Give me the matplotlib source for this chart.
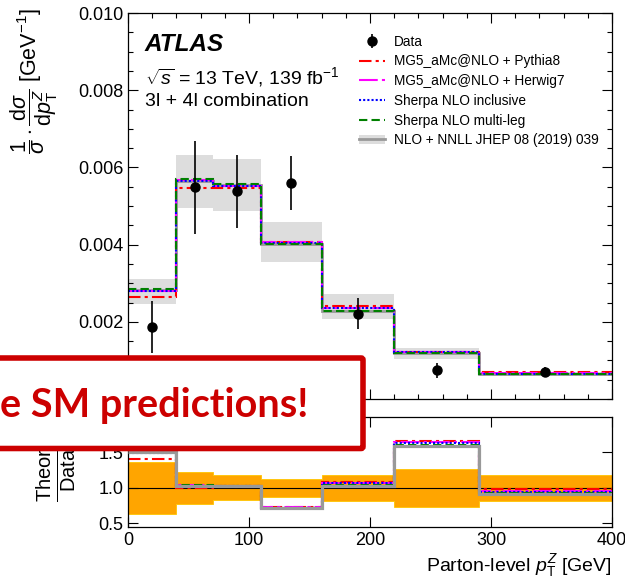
import numpy as np
import matplotlib
matplotlib.use("Agg")
import matplotlib.pyplot as plt
from matplotlib.patches import Patch, FancyBboxPatch
from matplotlib.lines import Line2D
from matplotlib.ticker import MultipleLocator, FormatStrFormatter

plt.rcParams['font.family'] = ['Liberation Sans', 'DejaVu Sans']
plt.rcParams['mathtext.fontset'] = 'custom'
plt.rcParams['mathtext.rm'] = 'Liberation Sans'
plt.rcParams['mathtext.it'] = 'Liberation Sans:italic'
plt.rcParams['mathtext.bf'] = 'Liberation Sans:bold'

# ---------------- data ----------------
edges = np.array([0, 40, 70, 110, 160, 220, 290, 400])
data = np.array([0.00187, 0.00548, 0.00538, 0.00559, 0.00221, 0.00074, 0.00070])
data_err = np.array([0.00068, 0.00120, 0.00095, 0.00070, 0.00040, 0.00020, 0.00013])

pythia = np.array([0.00263, 0.00546, 0.00546, 0.00406, 0.00240, 0.00123, 0.00069])
herwig = np.array([0.00281, 0.00568, 0.00553, 0.00406, 0.00237, 0.00122, 0.00067])
sherpa_inc = np.array([0.00280, 0.00564, 0.00552, 0.00405, 0.00236, 0.00121, 0.00066])
sherpa_ml = np.array([0.00284, 0.00569, 0.00556, 0.00402, 0.00229, 0.00119, 0.00065])
nnll = np.array([0.00282, 0.00565, 0.00554, 0.00402, 0.00228, 0.00118, 0.00064])
nnll_lo = np.array([0.00246, 0.00495, 0.00487, 0.00354, 0.00208, 0.00103, 0.00060])
nnll_hi = np.array([0.00311, 0.00631, 0.00623, 0.00459, 0.00272, 0.00133, 0.00070])

labels = ["Data", "MG5_aMc@NLO + Pythia8", "MG5_aMc@NLO + Herwig7",
          "Sherpa NLO inclusive", "Sherpa NLO multi-leg", "NLO + NNLL JHEP 08 (2019) 039"]

centers = 0.5 * (edges[:-1] + edges[1:])

# ---------------- styles ----------------
c_red, c_mag, c_blue, c_green = '#FF0000', '#FF00FF', '#0000FF', '#008000'
c_gray, c_band, c_orange = '#999999', '#DDDDDD', '#FFA500'
ls_red = (0, (6, 2, 1.5, 2))
ls_mag = (0, (9, 2, 1.5, 2))
ls_blue = (0, (1, 1))
ls_green = (0, (4, 2))
lw = 1.5

W, H = 625, 578
fig = plt.figure(figsize=(W / 100, H / 100), dpi=100)
ax = fig.add_axes([128 / W, 1 - 399 / H, 484 / W, 386 / H])
rax = fig.add_axes([128 / W, 1 - 527 / H, 484 / W, 110 / H])

# ---------------- upper panel ----------------
ax.stairs(nnll_hi, edges, baseline=nnll_lo, fill=True, color=c_band, lw=0, zorder=1)
ax.stairs(nnll, edges, baseline=None, color=c_gray, lw=2, zorder=1.5)
ax.stairs(pythia, edges, baseline=None, color=c_red, ls=ls_red, lw=lw, zorder=2)
ax.stairs(herwig, edges, baseline=None, color=c_mag, ls=ls_mag, lw=lw, zorder=2.1)
ax.stairs(sherpa_inc, edges, baseline=None, color=c_blue, ls=ls_blue, lw=lw, zorder=2.2)
ax.stairs(sherpa_ml, edges, baseline=None, color=c_green, ls=ls_green, lw=lw, zorder=2.3)
eb = ax.errorbar(centers, data, yerr=data_err, fmt='o', color='black', ms=6.5,
                 elinewidth=1.2, capsize=0, zorder=5)

ax.set_xlim(edges[0], edges[-1])
ax.set_ylim(0, 0.010)
ax.set_yticks([0.002, 0.004, 0.006, 0.008, 0.010])
ax.yaxis.set_major_formatter(FormatStrFormatter('%.3f'))
ax.yaxis.set_minor_locator(MultipleLocator(0.0005))
ax.xaxis.set_major_locator(MultipleLocator(100))
ax.xaxis.set_minor_locator(MultipleLocator(20))
ax.tick_params(labelbottom=False)

for a in (ax, rax):
    a.tick_params(which='both', direction='in', top=True, right=True, labelsize=13, width=0.8)
    a.tick_params(which='major', length=7)
    a.tick_params(which='minor', length=3.6)
    for s in a.spines.values():
        s.set_linewidth(0.9)

ax.text(0.035, 0.9016, "ATLAS", transform=ax.transAxes, fontsize=17.5,
        fontweight='bold', fontstyle='italic', va='baseline')
ax.text(0.035, 0.818, r"$\sqrt{s}$ = 13 TeV, 139 fb$^{-1}$", transform=ax.transAxes,
        fontsize=14, va='baseline')
ax.text(0.035, 0.760, "3l + 4l combination", transform=ax.transAxes,
        fontsize=14, va='baseline')

h_lines = [Line2D([], [], color=c_red, ls=ls_red, lw=lw),
           Line2D([], [], color=c_mag, ls=ls_mag, lw=lw),
           Line2D([], [], color=c_blue, ls=ls_blue, lw=lw),
           Line2D([], [], color=c_green, ls=ls_green, lw=lw),
           (Patch(facecolor=c_band, edgecolor='none'), Line2D([], [], color=c_gray, lw=2))]
ax.legend([eb] + h_lines, labels, loc='upper left', bbox_to_anchor=(0.467, 0.958),
          frameon=False, fontsize=9.8, handlelength=1.9, handletextpad=0.6,
          labelspacing=0.42, borderaxespad=0)

fig.text(34 / W, 1 - 8 / H,
         r"$\dfrac{1}{\sigma}\cdot\dfrac{\mathrm{d}\sigma}{\mathrm{d}p_{\mathrm{T}}^{Z}}$ [GeV$^{-1}$]",
         rotation=90, ha='center', va='top', fontsize=15.5)

# ---------------- ratio panel ----------------
rel = data_err / data
rax.stairs(1 + rel, edges, baseline=1 - rel, fill=True, facecolor=c_orange,
           edgecolor='#FFC400', lw=0.6, zorder=1)
rax.axhline(1.0, color='black', lw=0.8, zorder=1.5)
rax.stairs(pythia / data, edges, baseline=None, color=c_red, ls=ls_red, lw=lw, zorder=2)
rax.stairs(herwig / data, edges, baseline=None, color=c_mag, ls=ls_mag, lw=lw, zorder=2.1)
rax.stairs(sherpa_inc / data, edges, baseline=None, color=c_blue, ls=ls_blue, lw=lw, zorder=2.2)
rax.stairs(sherpa_ml / data, edges, baseline=None, color=c_green, ls=ls_green, lw=lw, zorder=2.3)
rax.stairs(nnll / data, edges, baseline=None, color=c_gray, lw=2.3, zorder=3)

rax.set_xlim(edges[0], edges[-1])
rax.set_ylim(0.45, 2.0)
rax.set_yticks([0.5, 1.0, 1.5])
rax.yaxis.set_major_formatter(FormatStrFormatter('%.1f'))
rax.xaxis.set_major_locator(MultipleLocator(100))
rax.set_xlabel(r"Parton-level $p_{\mathrm{T}}^{Z}$ [GeV]", fontsize=14, loc='right', labelpad=2)

fig.text(56 / W, 1 - 470 / H, r"$\dfrac{\mathrm{Theory}}{\mathrm{Data}}$",
         rotation=90, ha='center', va='center', fontsize=14.5)

# ---------------- overlay callout ----------------
oax = fig.add_axes([0, 0, 1, 1], zorder=20)
oax.set_xlim(0, W)
oax.set_ylim(H, 0)
oax.axis('off')
box = FancyBboxPatch((-30, 358), 393, 90.5, boxstyle="round,pad=0,rounding_size=2",
                     lw=4, edgecolor='#CC0000', facecolor='white')
oax.add_patch(box)
oax.text(308, 417, "e SM predictions!", color='#CC0000', fontsize=28.5,
         fontweight='bold', family='Lato', ha='right', va='baseline')

fig.savefig("out.png", dpi=100)
